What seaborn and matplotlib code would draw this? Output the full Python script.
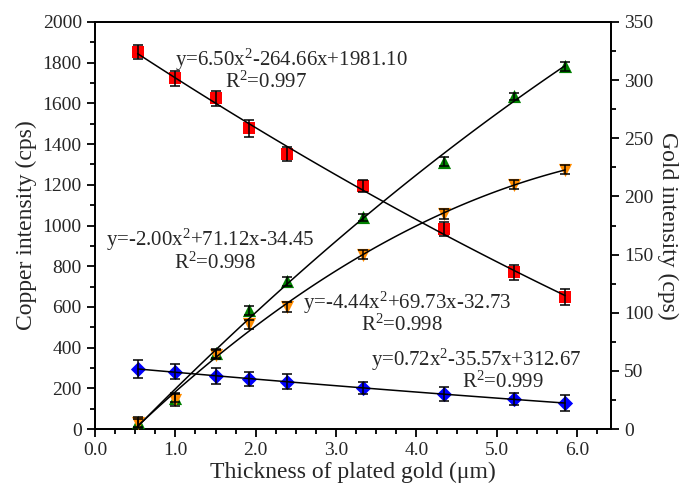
import numpy as np
import pandas as pd
import seaborn as sns
import matplotlib.pyplot as plt
from matplotlib.ticker import MultipleLocator

# thickness of plated gold (um)
thickness = [0.53, 1.00, 1.51, 1.91, 2.39, 3.34, 4.34, 5.21, 5.85]

# copper intensity (left axis)
cu_red = [1851, 1723, 1625, 1478, 1352, 1193, 981, 770, 650]
cu_red_err = [35, 38, 38, 42, 33, 30, 35, 38, 40]
cu_blue = [295, 282, 260, 244, 233, 203, 172, 147, 126]
cu_blue_err = [45, 35, 40, 35, 38, 30, 35, 30, 40]

# gold intensity (right axis)
au_green = [6, 27, 65, 102, 127, 182, 230, 286, 312]
au_green_err = [4, 4, 4, 4, 4, 3, 4, 3, 4]
au_orange = [5, 25, 64, 90, 105, 150, 185, 210, 223]
au_orange_err = [4, 5, 4, 4, 4, 4, 4, 4, 4]

sns.set_style("ticks")
plt.rcParams['font.family'] = ['Liberation Serif', 'DejaVu Serif']
plt.rcParams['mathtext.fontset'] = 'custom'
plt.rcParams['mathtext.rm'] = 'Liberation Serif'
plt.rcParams['mathtext.it'] = 'Liberation Serif'
plt.rcParams['mathtext.default'] = 'rm'
plt.rcParams['axes.linewidth'] = 1.3

fig = plt.figure(figsize=(6.86, 4.91), dpi=100)
ax = fig.add_axes([95 / 686, 1 - 429 / 491, 516 / 686, 407 / 491])
ax2 = ax.twinx()


def draw(axis, y, err, color, marker, size):
    df = pd.DataFrame({"x": thickness, "y": y})
    sns.scatterplot(data=df, x="x", y="y", ax=axis, color=color, marker=marker,
                    s=size, edgecolor=color, linewidth=0, zorder=3, legend=False)
    axis.errorbar(thickness, y, yerr=err, fmt="none", ecolor="black",
                  elinewidth=1.1, capsize=3.5, capthick=1.1, zorder=4)
    sns.regplot(data=df, x="x", y="y", ax=axis, order=2, ci=None, scatter=False,
                truncate=True, line_kws={"color": "black", "lw": 1.1, "zorder": 5})


draw(ax, cu_red, cu_red_err, "#ff0000", "s", 70)
draw(ax, cu_blue, cu_blue_err, "#0000ff", "D", 60)
draw(ax2, au_green, au_green_err, "#008000", "^", 90)
draw(ax2, au_orange, au_orange_err, "#ff8c00", "v", 90)

ax.set_xlim(0, 6.42)
ax.set_ylim(0, 2000)
ax2.set_ylim(0, 350)
ax.xaxis.set_major_locator(MultipleLocator(1.0))
ax.xaxis.set_minor_locator(MultipleLocator(0.25))
ax.yaxis.set_major_locator(MultipleLocator(200))
ax.yaxis.set_minor_locator(MultipleLocator(100))
ax2.yaxis.set_major_locator(MultipleLocator(50))
ax2.yaxis.set_minor_locator(MultipleLocator(25))
ax.xaxis.set_major_formatter(plt.FormatStrFormatter("%.1f"))

for a in (ax, ax2):
    a.tick_params(which="major", length=6, width=1.3, labelsize=14, color="black")
    a.tick_params(which="minor", length=3.5, width=1.3, color="black")
    for sp in a.spines.values():
        sp.set_visible(True)
        sp.set_color("black")
ax.tick_params(axis="y", which="both", right=False)
ax.tick_params(axis="x", which="both", top=False)

ax.set_xlabel("Thickness of plated gold (\u03bcm)", fontsize=17, labelpad=2)
ax.set_ylabel("Copper intensity (cps)", fontsize=17, labelpad=4)
ax2.set_ylabel("Gold intensity (cps)", fontsize=17, rotation=270, labelpad=18)

fs = 15
ax.text(2.44, 1813, "y=6.50x$^{2}$-264.66x+1981.10", fontsize=fs, ha="center", va="center")
ax.text(2.13, 1705, "R$^{2}$=0.997", fontsize=fs, ha="center", va="center")
ax.text(1.43, 929, "y=-2.00x$^{2}$+71.12x-34.45", fontsize=fs, ha="center", va="center")
ax.text(1.49, 816, "R$^{2}$=0.998", fontsize=fs, ha="center", va="center")
ax.text(3.89, 619, "y=-4.44x$^{2}$+69.73x-32.73", fontsize=fs, ha="center", va="center")
ax.text(3.82, 511, "R$^{2}$=0.998", fontsize=fs, ha="center", va="center")
ax.text(4.74, 339, "y=0.72x$^{2}$-35.57x+312.67", fontsize=fs, ha="center", va="center")
ax.text(5.07, 231, "R$^{2}$=0.999", fontsize=fs, ha="center", va="center")

fig.savefig("out.png", dpi=100)
